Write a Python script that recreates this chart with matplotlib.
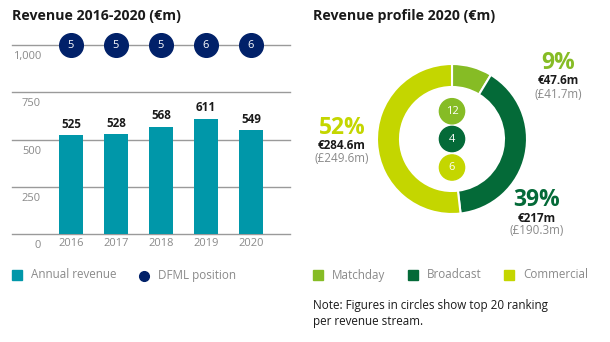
import matplotlib
matplotlib.use('Agg')
import matplotlib.pyplot as plt
from matplotlib.patches import Rectangle
from matplotlib.lines import Line2D

plt.rcParams['font.family'] = ['Open Sans', 'DejaVu Sans']

# datos
years = ['2016', '2017', '2018', '2019', '2020']
revenue = [525, 528, 568, 611, 549]
dfml_position = [5, 5, 5, 6, 6]
y_ticks = [0, 250, 500, 750, 1000]
y_tick_labels = ['0', '250', '500', '750', '1,000']

streams = ['Matchday', 'Broadcast', 'Commercial']
stream_values = [47.6, 217, 284.6]
stream_pct = ['9%', '39%', '52%']
stream_eur = ['€47.6m', '€217m', '€284.6m']
stream_gbp = ['(£41.7m)', '(£190.3m)', '(£249.6m)']
stream_rank = [12, 4, 6]

W, H = 610, 342
TEAL = '#0097A9'
NAVY = '#012169'
stream_colors = ['#86BC25', '#046A38', '#C4D600']
DARK = '#1a1a1a'
GREY = '#8a8a8a'
FS = 8.4


def px(x, y):
    # pixeles (desde arriba-izquierda) -> fraccion de figura
    return x / W, 1 - y / H


fig = plt.figure(figsize=(W / 100, H / 100), dpi=100)

# ---------------- grafico de barras ----------------
ax1 = fig.add_axes([12 / W, (H - 234) / H, 278 / W, (234 - 45) / H])
xs = list(range(len(years)))
ax1.bar(xs, revenue, width=0.53, color=TEAL, zorder=2)
ax1.set_xlim(-1.311, 4.867)
ax1.set_ylim(0, 1000)
for t in y_ticks:
    ax1.axhline(t, color='#9a9a9a', lw=1, zorder=1, clip_on=False)
for t, lab in zip(y_ticks, y_tick_labels):
    ax1.annotate(lab, (-0.667, t), xytext=(0, -4.5), textcoords='offset points',
                 ha='right', va='top', fontsize=8, color=GREY,
                 annotation_clip=False)
for x, v in zip(xs, revenue):
    ax1.annotate(str(v), (x, v), xytext=(0, 3), textcoords='offset points',
                 ha='center', va='bottom', fontsize=8.4, fontweight='bold',
                 color=DARK)
ax1.scatter(xs, [1000] * len(xs), s=290, color=NAVY, zorder=4, clip_on=False)
for x, p in zip(xs, dfml_position):
    ax1.text(x, 1000, str(p), ha='center', va='center', fontsize=8,
             color='white', zorder=5)
ax1.set_xticks(xs)
ax1.set_xticklabels(years, fontsize=8, color=GREY)
ax1.tick_params(axis='x', length=0, pad=3)
ax1.set_yticks([])
for s in ax1.spines.values():
    s.set_visible(False)

fig.text(*px(12, 16), 'Revenue 2016-2020 (€m)', fontsize=10.2, fontweight='bold',
         color=DARK, va='center')


# leyendas dibujadas a mano
def legend_square(x, y, color, label):
    fig.add_artist(Rectangle(px(x, y + 5), 10 / W, 10 / H, color=color,
                             transform=fig.transFigure))
    fig.text(*px(x + 19, y), label, fontsize=FS, color=GREY, va='center')


legend_square(12, 275, TEAL, 'Annual revenue')
dx, dy = px(144, 275.5)
fig.add_artist(Line2D([dx], [dy], marker='o', markersize=7, color=NAVY, ls='',
                      transform=fig.transFigure))
fig.text(*px(158, 275), 'DFML position', fontsize=FS, color=GREY, va='center')

# ---------------- donut ----------------
R = 75
ax2 = fig.add_axes([(452 - 80) / W, (H - 139 - 80) / H, 160 / W, 160 / H])
ax2.pie(stream_values, colors=stream_colors, startangle=90, counterclock=False,
        radius=1, wedgeprops=dict(width=23 / R, edgecolor='white', linewidth=1.5))
ax2.set_xlim(-80 / R, 80 / R)
ax2.set_ylim(-80 / R, 80 / R)
ax2.set_aspect('equal')
ax2.axis('off')
rank_y = [0.37, 0, -0.38]
ax2.scatter([0] * 3, rank_y, s=330, color=stream_colors, zorder=3)
for yy, r in zip(rank_y, stream_rank):
    ax2.text(0, yy, str(r), ha='center', va='center', fontsize=8,
             color='white', zorder=4)

label_pos = [(558, 63), (537, 200), (342, 128)]
for (lx, ly), pct, eur, gbp, c in zip(label_pos, stream_pct, stream_eur,
                                      stream_gbp, stream_colors):
    fig.text(*px(lx, ly), pct, ha='center', va='center', fontsize=16.5,
             fontweight='bold', color=c)
    fig.text(*px(lx, ly + 18), eur, ha='center', va='center', fontsize=FS,
             fontweight='bold', color=DARK)
    fig.text(*px(lx, ly + 31), gbp, ha='center', va='center', fontsize=FS,
             color=GREY)

fig.text(*px(313, 16), 'Revenue profile 2020 (€m)', fontsize=10.2,
         fontweight='bold', color=DARK, va='center')

for x, n, c in zip([313, 408, 504], streams, stream_colors):
    legend_square(x, 275, c, n)

fig.text(*px(313, 305), 'Note: Figures in circles show top 20 ranking',
         fontsize=FS, color=DARK, va='center')
fig.text(*px(313, 321), 'per revenue stream.',
         fontsize=FS, color=DARK, va='center')

fig.savefig('out.png', dpi=100)
